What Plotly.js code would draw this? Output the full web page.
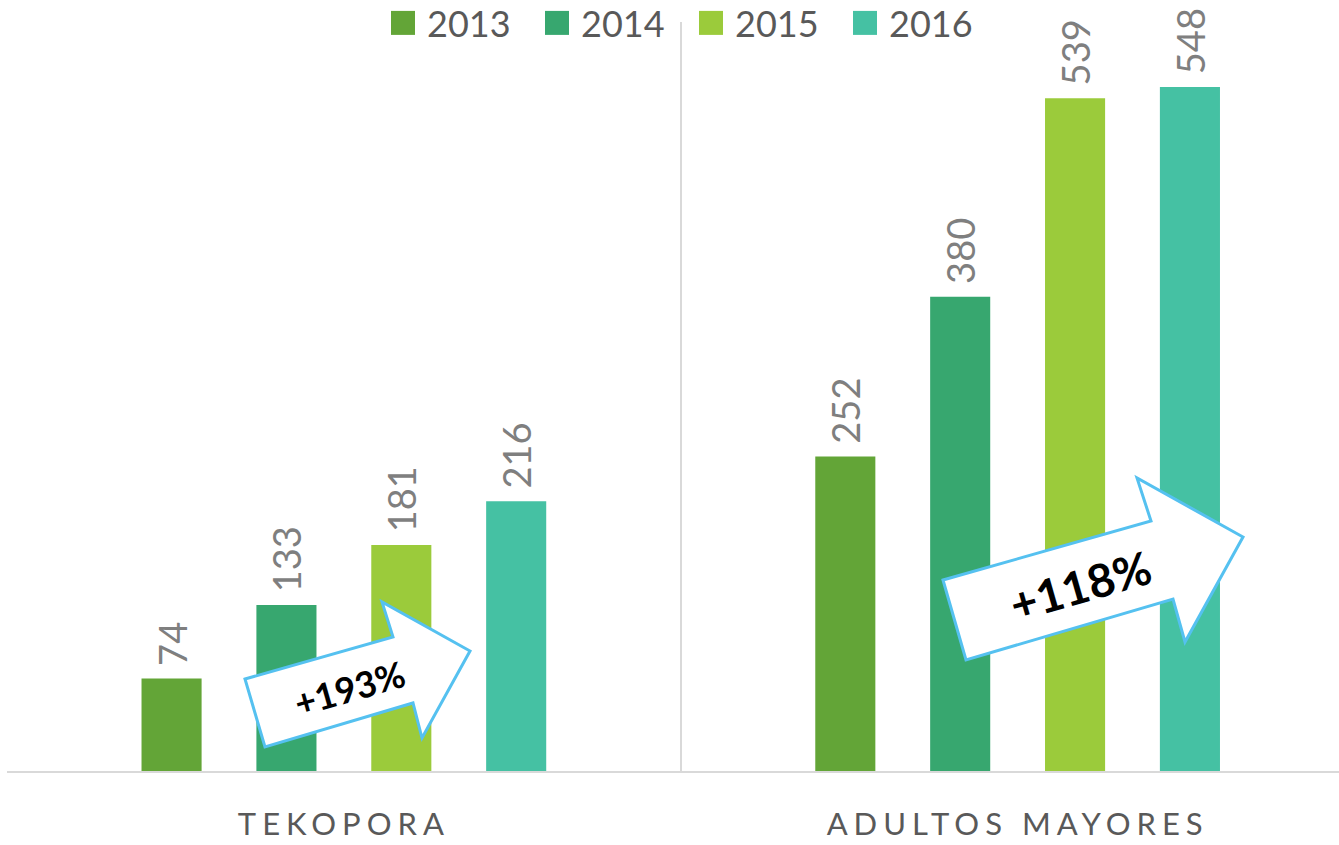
<!DOCTYPE html>
<html>
<head>
<meta charset="utf-8">
<script src="https://cdn.plot.ly/plotly-3.0.1.min.js"></script>
<style>
html,body{margin:0;padding:0;overflow:hidden;background:#fff;}
#chart{width:1339px;height:845px;}
.xtick text{letter-spacing:6px;}
</style>
</head>
<body>
<div id="chart"></div>
<script>
// ---- data ----
const categories = ["TEKOPORA", "ADULTOS MAYORES"];
const years = ["2013", "2014", "2015", "2016"];
const v2013 = [74, 252];
const v2014 = [133, 380];
const v2015 = [181, 539];
const v2016 = [216, 548];
const growthLabels = ["+193%", "+118%"];

const seriesValues = [v2013, v2014, v2015, v2016];
const colors = ["#63A537", "#37A76F", "#9BCB3B", "#45C1A3"];

// layout geometry
const W = 1339, H = 845;
const mL = 7, mR = 0, mT = 22, mB = 74;
const plotW = W - mL - mR, plotH = H - mT - mB;
function px(x){ return (x - mL) / plotW; }
function py(y){ return (H - mB - y) / plotH; }
function pathFrom(pts){
  return pts.map((p,i)=> (i? 'L':'M') + px(p[0]).toFixed(5) + ',' + py(p[1]).toFixed(5)).join(' ') + ' Z';
}

const traces = years.map((yr, i) => ({
  type: 'bar',
  name: yr,
  x: categories,
  y: seriesValues[i],
  text: seriesValues[i].map(v => '\u00A0' + v),
  textposition: 'outside',
  textangle: -90,
  constraintext: 'none',
  cliponaxis: false,
  outsidetextfont: {family: 'Lato, sans-serif', size: 38, color: '#7F7F7F'},
  marker: {color: colors[i], line: {width: 0}},
  hoverinfo: 'x+y+name'
}));

// arrow outlines (pixel positions in the picture)
const arrow1 = [[245,679],[393,637],[382,602],[470,651],[422,738],[413,703],[265,747]];
const arrow2 = [[943,580],[1151,521],[1137,478],[1243,537],[1185,642],[1173,599],[966,660]];

const layout = {
  width: W, height: H,
  margin: {l: mL, r: mR, t: mT, b: mB, pad: 0, autoexpand: false},
  paper_bgcolor: '#fff', plot_bgcolor: '#fff',
  barmode: 'group',
  bargap: 0.318,
  bargroupgap: 0.477,
  font: {family: 'Lato, sans-serif', color: '#595959'},
  xaxis: {
    type: 'category',
    range: [-0.5, 1.477],
    tickson: 'boundaries',
    showgrid: true, gridcolor: '#D9D9D9', gridwidth: 2,
    showline: true, linecolor: '#D9D9D9', linewidth: 2,
    ticks: '', ticklen: 0,
    ticklabelstandoff: 25,
    tickfont: {family: 'Lato, sans-serif', size: 31, color: '#595959'},
    fixedrange: true, zeroline: false
  },
  yaxis: {
    range: [0, 600],
    visible: false,
    showgrid: false, zeroline: false, fixedrange: true
  },
  showlegend: true,
  legend: {
    orientation: 'h',
    x: px(387), xanchor: 'left',
    y: py(-7), yanchor: 'top',
    entrywidth: 109, entrywidthmode: 'pixels',
    font: {family: 'Lato, sans-serif', size: 36, color: '#595959'},
    bgcolor: 'rgba(0,0,0,0)',
    traceorder: 'normal'
  },
  shapes: [
    {type: 'path', xref: 'paper', yref: 'paper', path: pathFrom(arrow1),
     fillcolor: '#FFFFFF', line: {color: '#55C1F0', width: 3}, layer: 'above'},
    {type: 'path', xref: 'paper', yref: 'paper', path: pathFrom(arrow2),
     fillcolor: '#FFFFFF', line: {color: '#55C1F0', width: 3}, layer: 'above'}
  ],
  annotations: [
    {xref: 'paper', yref: 'paper', x: px(349), y: py(688), xanchor: 'center', yanchor: 'middle',
     text: '<b>' + growthLabels[0] + '</b>',
     showarrow: false, textangle: -16, font: {family: 'Lato, sans-serif', size: 36, color: '#000'}},
    {xref: 'paper', yref: 'paper', x: px(1080), y: py(585), xanchor: 'center', yanchor: 'middle',
     text: '<b>' + growthLabels[1] + '</b>',
     showarrow: false, textangle: -16, font: {family: 'Lato, sans-serif', size: 46, color: '#000'}}
  ]
};

Plotly.newPlot('chart', traces, layout, {displayModeBar: false, staticPlot: true}).then(function(gd){
  document.querySelectorAll('.legendpoints path').forEach(function(p){
    p.setAttribute('d', 'M8,12H-16V-12H8Z');
  });
});
</script>
</body>
</html>
